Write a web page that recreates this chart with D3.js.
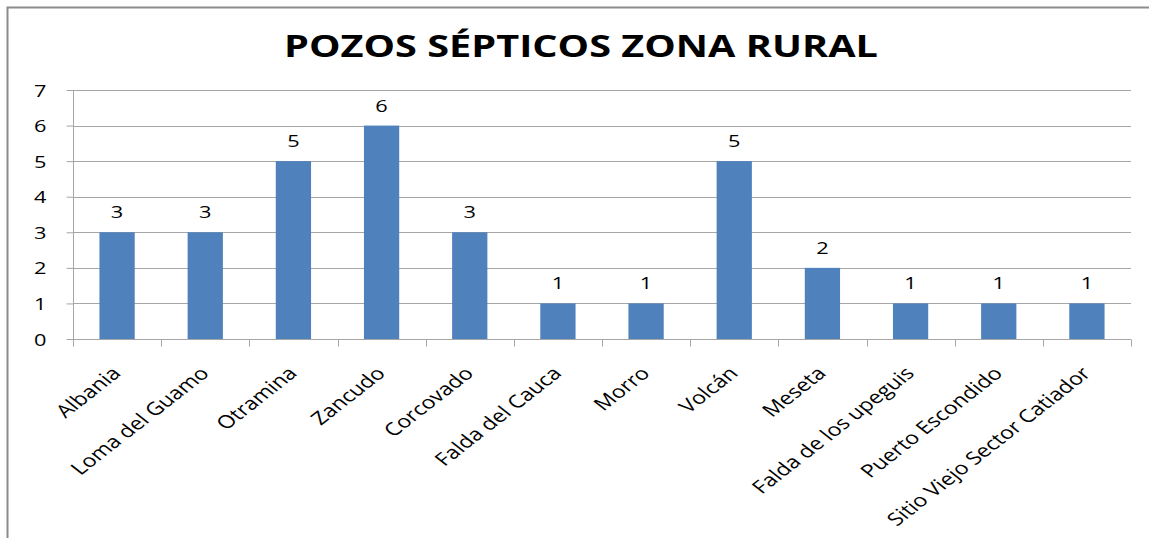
<!DOCTYPE html>
<html><head><meta charset="utf-8">
<script src="https://cdn.jsdelivr.net/npm/d3@7"></script>
<style>body{margin:0;background:#fff}svg{display:block}</style>
</head><body>
<svg id="c" width="1149" height="538"></svg>
<script>
const categories = ["Albania","Loma del Guamo","Otramina","Zancudo","Corcovado","Falda del Cauca","Morro","Volcán","Meseta","Falda de los upeguis","Puerto Escondido","Sitio Viejo Sector Catiador"];
const values = [3,3,5,6,3,1,1,5,2,1,1,1];
const yTicks = [0,1,2,3,4,5,6,7];
const title = "POZOS SÉPTICOS ZONA RURAL";

const svg = d3.select("#c");
const font = "'Open Sans', 'Liberation Sans', sans-serif";
const SX = 1.28; // horizontal stretch of the reference picture
const L = 73, R = 1131, T = 90, B = 339;

// frame
svg.append("path").attr("d","M7.5,538 V7.5 H1149").attr("fill","none").attr("stroke","#8c8c8c").attr("stroke-width",2);

svg.append("text").attr("transform",`translate(581,57) scale(${SX},1)`).attr("text-anchor","middle")
  .attr("font-family",font).attr("font-weight","bold").attr("font-size",31)
  .attr("fill","#000").text(title);

const x = d3.scaleBand().domain(categories).range([L,R]).paddingInner(0.6).paddingOuter(0.3);
const xb = d3.scaleBand().domain(categories).range([L,R]);
const y = d3.scaleLinear().domain([0,7]).range([B,T]);

// grid
svg.append("g").selectAll("line").data(yTicks.filter(d=>d>0)).join("line")
  .attr("x1",L).attr("x2",R).attr("y1",d=>Math.round(y(d))+0.5).attr("y2",d=>Math.round(y(d))+0.5)
  .attr("stroke","#a6a6a6").attr("stroke-width",1);

// bars
svg.append("g").selectAll("rect").data(values).join("rect")
  .attr("x",(d,i)=>x(categories[i])).attr("width",x.bandwidth())
  .attr("y",d=>y(d)).attr("height",d=>B-y(d)).attr("fill","#4f81bd");

// y axis
const ya = svg.append("g").attr("transform",`translate(${L+0.5},0)`)
  .call(d3.axisLeft(y).tickValues(yTicks).tickFormat(d3.format("d")).tickSize(7));
ya.select(".domain").attr("stroke","#a6a6a6").attr("d",`M0,${T}V${B}`);
ya.selectAll(".tick line").attr("stroke","#a6a6a6");
ya.selectAll(".tick text").attr("x",null).attr("dy",null)
  .attr("transform",`translate(-27,6) scale(${SX},1)`).attr("text-anchor","end")
  .attr("font-family",font).attr("font-size",17).attr("fill","#000");

// x axis
const xa = svg.append("g").attr("transform",`translate(0,${B+0.5})`);
xa.append("line").attr("x1",L).attr("x2",R).attr("stroke","#a6a6a6");
xa.selectAll(".tk").data(d3.range(categories.length+1)).join("line")
  .attr("x1",i=>Math.round(L+i*xb.bandwidth())+0.5).attr("x2",i=>Math.round(L+i*xb.bandwidth())+0.5)
  .attr("y1",0).attr("y2",7).attr("stroke","#a6a6a6");
xa.selectAll("text").data(categories).join("text")
  .attr("transform",d=>`translate(${xb(d)+xb.bandwidth()/2+5},${35}) scale(${SX},1) rotate(-45)`)
  .attr("text-anchor","end").attr("font-family",font).attr("font-size",18).attr("fill","#000")
  .text(d=>d);

// value labels
svg.append("g").selectAll("text").data(values).join("text")
  .attr("transform",(d,i)=>`translate(${x(categories[i])+x.bandwidth()/2},${y(d)-14}) scale(${SX},1)`)
  .attr("text-anchor","middle").attr("font-family",font).attr("font-size",17).attr("fill","#000")
  .text(d=>d);
</script>
</body></html>
